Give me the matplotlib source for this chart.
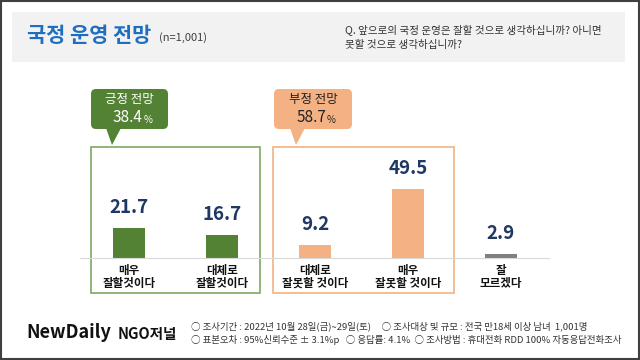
import matplotlib.pyplot as plt
from matplotlib.patches import Rectangle, FancyBboxPatch, Polygon

plt.rcParams['font.family'] = ['Noto Sans CJK KR', 'DejaVu Sans']

categories = ['매우\n잘할것이다', '대체로\n잘할것이다', '대체로\n잘못할 것이다', '매우\n잘못할 것이다', '잘\n모르겠다']
values = [21.7, 16.7, 9.2, 49.5, 2.9]
bar_colors = ['#548235', '#548235', '#f4b183', '#f4b183', '#7f7f7f']
pos_label, pos_total = '긍정 전망', '38.4'
neg_label, neg_total = '부정 전망', '58.7'

W, H = 640, 360
fig = plt.figure(figsize=(W / 100, H / 100), dpi=100)

# overlay in pixel coords (y down)
bg = fig.add_axes([0, 0, 1, 1])
bg.set_xlim(0, W)
bg.set_ylim(H, 0)
bg.axis('off')

bg.add_patch(Rectangle((1, 1), W - 2, H - 2, fill=False, ec='#404040', lw=1.5))
bg.add_patch(Rectangle((12, 12), 613, 50, fc='#f2f2f2', ec='none'))
bg.text(27, 36, '국정 운영 전망', fontsize=15, fontweight='bold', color='#1f6fc0', va='center')
bg.text(159, 38, '(n=1,001)', fontsize=8, color='#404040', va='center')
bg.text(345, 30, 'Q. 앞으로의 국정 운영은 잘할 것으로 생각하십니까? 아니면',
        fontsize=7.6, color='#333333', va='center')
bg.text(345, 45, '못할 것으로 생각하십니까?', fontsize=7.6, color='#333333', va='center')

# group boxes
bg.add_patch(Rectangle((91, 147), 169, 146, fill=False, ec='#7ea864', lw=1.2))
bg.add_patch(Rectangle((273, 147), 181, 146, fill=False, ec='#f4b183', lw=1.2))

# callouts
def callout(x0, x1, y0, y1, apex, color, txtcolor, label, total):
    bg.add_patch(FancyBboxPatch((x0, y0), x1 - x0, y1 - y0, boxstyle='round,pad=0,rounding_size=5',
                                fc=color, ec='none'))
    bg.add_patch(Polygon([(apex - 6, y1 - 1), (apex + 9, y1 - 1), (apex, y1 + 16)], closed=True,
                         fc=color, ec='none'))
    cx = (x0 + x1) / 2
    bg.text(cx, y0 + 11, label, fontsize=9, color=txtcolor, ha='center', va='center')
    bg.text(cx + 13, y0 + 29, total, fontsize=11, color=txtcolor, ha='right', va='center')
    bg.text(cx + 14, y0 + 31, '%', fontsize=7, color=txtcolor, ha='left', va='center')

callout(91, 168, 89, 129, 112, '#548235', 'white', pos_label, pos_total)
callout(274, 352, 89, 129, 296, '#f4b183', '#222222', neg_label, neg_total)

# bar chart: baseline at y=258, 1.4 px per unit, centers from x=129 step 93
x0_px, step = 129, 93
left_px, right_px = 80, 549
base_px = 258
ytop = 60
ax = fig.add_axes([left_px / W, (H - base_px) / H, (right_px - left_px) / W, ytop * 1.4 / H])
ax.set_xlim((left_px - x0_px) / step, (right_px - x0_px) / step)
ax.set_ylim(0, ytop)
xs = list(range(len(values)))
ax.bar(xs, values, width=32 / step, color=bar_colors)
for x, v in zip(xs, values):
    ax.annotate(f'{v}', (x, v), xytext=(0, 8), textcoords='offset points', ha='center', va='bottom',
                fontsize=13.5, fontweight='bold', color='#1f3864')
for s in ['top', 'right', 'left']:
    ax.spines[s].set_visible(False)
ax.spines['bottom'].set_color('#d9d9d9')
ax.set_yticks([])
ax.set_xticks(xs)
ax.set_xticklabels(categories, fontsize=8.3, fontweight='bold', color='#111111', linespacing=1.0)
ax.tick_params(axis='x', length=0, pad=4)
ax.patch.set_alpha(0)

# footer
bg.text(26, 333, 'NewDaily', fontsize=13, fontweight='bold', color='#111111', va='center')
bg.text(118, 334, 'NGO저널', fontsize=10.5, fontweight='bold', color='#111111', va='center')
bg.text(191, 326, '○ 조사기간 : 2022년 10월 28일(금)~29일(토)     ○ 조사대상 및 규모 : 전국 만18세 이상 남녀  1,001명',
        fontsize=6.8, color='#333333', va='center')
bg.text(191, 340, '○ 표본오차 : 95%신뢰수준 ± 3.1%p   ○ 응답률: 4.1%  ○ 조사방법 : 휴대전화 RDD 100% 자동응답전화조사',
        fontsize=6.8, color='#333333', va='center')

fig.savefig('out.png', dpi=100)
